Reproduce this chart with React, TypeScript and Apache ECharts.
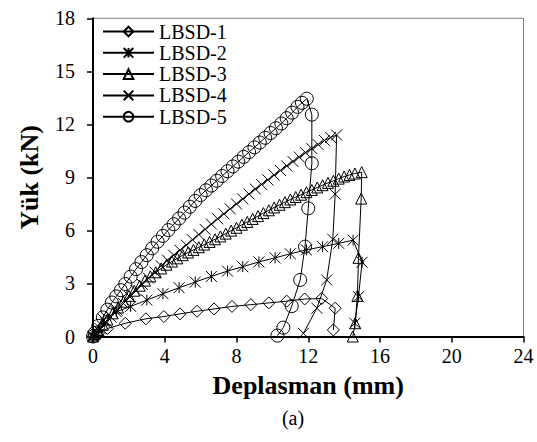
import React, { useEffect, useRef } from "react";
import * as echarts from "echarts";

const seriesNames = ["LBSD-1", "LBSD-2", "LBSD-3", "LBSD-4", "LBSD-5"];
const xTicks = [0, 4, 8, 12, 16, 20, 24];
const yTicks = [0, 3, 6, 9, 12, 15, 18];

const x1 = [0, 0.2, 0.8, 1.8, 2.95, 3.95, 4.85, 5.8, 6.75, 7.75, 8.8, 9.8, 10.8, 11.8, 12.75, 13.5, 13.4];
const y1 = [0, 0.12, 0.45, 0.75, 1.0, 1.13, 1.28, 1.43, 1.56, 1.7, 1.8, 1.9, 2.0, 2.12, 2.15, 1.6, 0.37];

const x2 = [0, 0.3, 0.6, 1.3, 2.1, 3.0, 3.9, 4.8, 5.7, 6.6, 7.5, 8.35, 9.25, 10.15, 11.0, 11.9, 12.8, 13.7, 14.5, 15.0, 14.8, 14.6];
const y2 = [0, 0.35, 0.95, 1.4, 1.7, 2.06, 2.42, 2.76, 3.08, 3.4, 3.7, 3.95, 4.22, 4.45, 4.68, 4.9, 5.08, 5.27, 5.45, 4.2, 2.25, 0.75];

const x3 = [0, 0.1, 0.3, 0.55, 0.8, 1.1, 1.4, 1.7, 2.0, 2.3, 2.6, 2.9, 3.2, 3.5, 3.8, 4.1, 4.4, 4.7, 5.0, 5.3, 5.6, 5.9, 6.2, 6.5, 6.8, 7.1, 7.4, 7.7, 8.0, 8.3, 8.6, 8.9, 9.2, 9.5, 9.8, 10.1, 10.4, 10.7, 11.0, 11.3, 11.6, 11.9, 12.2, 12.5, 12.8, 13.1, 13.4, 13.7, 14.0, 14.3, 14.6, 14.98, 14.95, 14.8, 14.74, 14.62, 14.48];
const y3 = [0, 0.12, 0.36, 0.66, 0.96, 1.31, 1.64, 1.97, 2.3, 2.59, 2.87, 3.16, 3.4, 3.63, 3.85, 4.06, 4.24, 4.42, 4.6, 4.75, 4.9, 5.05, 5.2, 5.35, 5.5, 5.66, 5.82, 5.99, 6.15, 6.32, 6.48, 6.65, 6.81, 6.98, 7.14, 7.3, 7.45, 7.6, 7.75, 7.89, 8.02, 8.16, 8.29, 8.43, 8.56, 8.69, 8.81, 8.93, 9.05, 9.14, 9.22, 9.3, 7.8, 4.45, 2.3, 0.75, 0];

const x4 = [0, 0.15, 0.4, 0.7, 1.0, 1.35, 1.7, 2.05, 2.4, 2.75, 3.1, 3.45, 3.8, 4.15, 4.5, 4.85, 5.2, 5.55, 5.9, 6.25, 6.6, 6.95, 7.3, 7.65, 8.0, 8.35, 8.7, 9.05, 9.4, 9.75, 10.1, 10.45, 10.8, 11.15, 11.5, 11.85, 12.2, 12.55, 12.9, 13.25, 13.58, 13.5, 13.37, 13.03, 12.48, 11.73];
const y4 = [0, 0.17, 0.44, 0.77, 1.1, 1.49, 1.87, 2.25, 2.6, 2.95, 3.3, 3.65, 4.0, 4.32, 4.6, 4.88, 5.17, 5.47, 5.77, 6.06, 6.36, 6.66, 6.94, 7.22, 7.5, 7.78, 8.06, 8.34, 8.6, 8.86, 9.13, 9.39, 9.65, 9.9, 10.15, 10.4, 10.63, 10.86, 11.09, 11.26, 11.4, 8.05, 5.5, 3.2, 1.6, 0.18];

const x5 = [0, 0.1, 0.3, 0.55, 0.8, 1.05, 1.3, 1.55, 1.8, 2.1, 2.4, 2.7, 3.0, 3.3, 3.6, 3.9, 4.2, 4.5, 4.8, 5.1, 5.4, 5.7, 6.0, 6.3, 6.6, 6.9, 7.2, 7.5, 7.8, 8.1, 8.4, 8.7, 9.0, 9.3, 9.6, 9.9, 10.2, 10.5, 10.8, 11.1, 11.4, 11.65, 11.92, 12.2, 12.2, 12.0, 11.82, 11.55, 11.08, 10.61, 10.28];
const y5 = [0, 0.2, 0.6, 1.08, 1.52, 1.92, 2.27, 2.62, 2.97, 3.39, 3.81, 4.21, 4.6, 4.99, 5.36, 5.69, 6.02, 6.35, 6.68, 7.01, 7.34, 7.67, 8.0, 8.27, 8.54, 8.81, 9.08, 9.35, 9.62, 9.89, 10.16, 10.43, 10.7, 10.97, 11.24, 11.51, 11.78, 12.05, 12.35, 12.66, 12.99, 13.22, 13.45, 12.55, 9.8, 7.25, 5.08, 3.2, 1.72, 0.5, 0.05];

const xs = [x1, x2, x3, x4, x5];
const ys = [y1, y2, y3, y4, y5];

const FONT = "Liberation Serif";
const symbols = [
  "diamond",
  "path://M5 0L5 10M0 0L10 10M10 0L0 10",
  "triangle",
  "path://M0 0L10 10M10 0L0 10",
  "circle",
];
const symbolSizes = [12, 11, 11, 11, 13];

export default function App() {
  const ref = useRef<HTMLDivElement>(null);
  useEffect(() => {
    if (!ref.current) return;
    const chart = echarts.init(ref.current, null, { renderer: "svg" });
    const series = seriesNames.map((name, i) => ({
      name,
      type: "line",
      data: xs[i].map((x, j) => [x, ys[i][j]]),
      symbol: symbols[i],
      symbolSize: symbolSizes[i],
      showAllSymbol: true,
      clip: false,
      lineStyle: { color: "#000", width: 1 },
      itemStyle: { color: "transparent", borderColor: "#000", borderWidth: 1 },
      emphasis: { disabled: true },
    }));
    chart.setOption({
      animation: false,
      backgroundColor: "#fff",
      grid: {
        left: 93,
        right: 13.5,
        top: 18.3,
        bottom: 105.5,
        show: true,
        borderColor: "#808080",
        borderWidth: 1,
        backgroundColor: "transparent",
      },
      legend: {
        orient: "vertical",
        left: 102,
        top: 21.5,
        padding: 0,
        itemWidth: 51,
        itemHeight: 12,
        itemGap: 1.3,
        textStyle: { fontFamily: FONT, fontSize: 20, color: "#000", lineHeight: 20 },
        data: seriesNames,
      },
      xAxis: {
        type: "value",
        min: xTicks[0],
        max: xTicks[xTicks.length - 1],
        interval: xTicks[1] - xTicks[0],
        name: "Deplasman (mm)",
        nameLocation: "middle",
        nameGap: 36,
        nameTextStyle: { fontFamily: FONT, fontSize: 26, fontWeight: "bold", color: "#000" },
        axisLine: { onZero: false, lineStyle: { color: "#000", width: 2 } },
        axisTick: { inside: false, length: 6, lineStyle: { color: "#000", width: 1.5 } },
        axisLabel: { fontFamily: FONT, fontSize: 20, color: "#000", margin: 9 },
        splitLine: { show: false },
      },
      yAxis: {
        type: "value",
        min: yTicks[0],
        max: yTicks[yTicks.length - 1],
        interval: yTicks[1] - yTicks[0],
        name: "Yük (kN)",
        nameLocation: "middle",
        nameGap: 51,
        nameTextStyle: { fontFamily: FONT, fontSize: 26, fontWeight: "bold", color: "#000" },
        axisLine: { onZero: false, lineStyle: { color: "#000", width: 2 } },
        axisTick: { inside: false, length: 6, lineStyle: { color: "#000", width: 1.5 } },
        axisLabel: { fontFamily: FONT, fontSize: 20, color: "#000", margin: 18 },
        splitLine: { show: false },
      },
      graphic: [
        {
          type: "text",
          x: 293,
          y: 418,
          style: {
            text: "(a)",
            fontFamily: FONT,
            fontSize: 20,
            fill: "#000",
            textAlign: "center",
            textVerticalAlign: "middle",
          },
        },
      ],
      series,
    });
    return () => chart.dispose();
  }, []);
  return (
    <div
      ref={ref}
      style={{ position: "fixed", left: 0, top: 0, width: 537, height: 442, background: "#fff" }}
    />
  );
}
